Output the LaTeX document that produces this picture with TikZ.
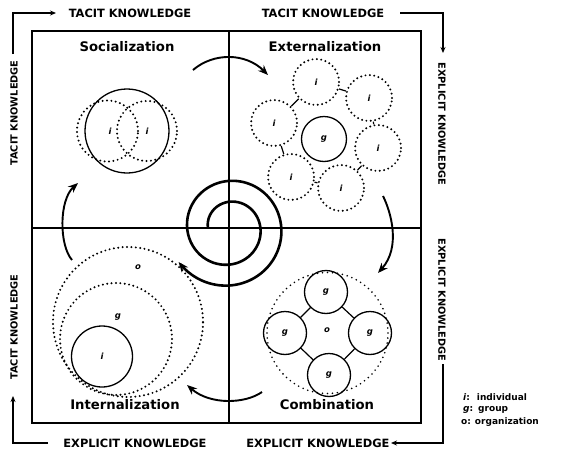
\documentclass[tikz,border=0pt]{standalone}
\usepackage{fontspec}
\setmainfont{DejaVu Sans}
\usetikzlibrary{arrows.meta}
\begin{document}
\begin{tikzpicture}[x=1pt,y=-1pt,
  frame/.style={line width=1.4pt},
  solidc/.style={circle,draw,line width=1.3pt,inner sep=0pt,font=\fontsize{8.5}{8.5}\selectfont\bfseries\itshape},
  dotc/.style={circle,draw,line width=2.2pt,dash pattern=on 0pt off 4.4pt,line cap=round,inner sep=0pt,font=\fontsize{8.5}{8.5}\selectfont\bfseries\itshape},
  title/.style={font=\fontsize{13.2}{13.2}\selectfont\bfseries,inner sep=0pt},
  klabel/.style={font=\fontsize{11.4}{11.4}\selectfont\bfseries,inner sep=0pt},
  vlabel/.style={font=\fontsize{9.8}{9.8}\selectfont\bfseries,inner sep=0pt},
  lbl/.style={font=\fontsize{8.5}{8.5}\selectfont\bfseries\itshape,inner sep=0pt},
  legend/.style={font=\fontsize{9}{9}\selectfont\bfseries,inner sep=0pt,anchor=west},
  cyc/.style={line width=1.9pt,-{Stealth[length=10pt,width=8pt]}},
  outarr/.style={line width=1.3pt,-{Stealth[length=6pt,width=5pt]}},
  link/.style={line width=1.2pt},
]
\useasboundingbox (0,0) rectangle (566,453);
\fill[white] (0,0) rectangle (566,453);

% main box
\draw[frame] (32,31) rectangle (421,423);
\draw[frame] (229,31) -- (229,423);
\draw[frame] (32,228) -- (421,228);

% outer frame labels
\node[klabel] (tk1) at (130,13) {TACIT KNOWLEDGE};
\node[klabel] (tk2) at (323,13) {TACIT KNOWLEDGE};
\node[klabel] (ek1) at (135,443) {EXPLICIT KNOWLEDGE};
\node[klabel] (ek2) at (318,443) {EXPLICIT KNOWLEDGE};
\node[vlabel,rotate=90] (tk3) at (14,113) {TACIT KNOWLEDGE};
\node[vlabel,rotate=90] (tk4) at (14,327) {TACIT KNOWLEDGE};
\node[vlabel,rotate=-90] (ek3) at (442,124) {EXPLICIT KNOWLEDGE};
\node[vlabel,rotate=-90] (ek4) at (442,300) {EXPLICIT KNOWLEDGE};

% outer frame arrows
\coordinate (a1s) at (13,54);
\coordinate (a1e) at (56,13);
\draw[outarr] (a1s) |- (a1e);
\coordinate (a2s) at (400,13);
\coordinate (a2e) at (443,53);
\draw[outarr] (a2s) -| (a2e);
\coordinate (a3s) at (443,364);
\coordinate (a3e) at (391,443);
\draw[outarr] (a3s) |- (a3e);
\coordinate (a4s) at (48,443);
\coordinate (a4e) at (13,396);
\draw[outarr] (a4s) -| (a4e);

% titles
\node[title] (tsoc) at (127,47) {Socialization};
\node[title] (text) at (325,47) {Externalization};
\node[title] (tint) at (125,405) {Internalization};
\node[title] (tcom) at (327,405) {Combination};

% Socialization
\node[solidc,minimum size=84pt] (soc) at (127,131) {};
\node[dotc,minimum size=61pt] (socA) at (107.5,131) {};
\node[dotc,minimum size=60pt] (socB) at (147,131) {};
\node[lbl] (si1) at (110,131) {i};
\node[lbl] (si2) at (147,131) {i};

% Externalization
\node[solidc,minimum size=45pt] (eg) at (324,139) {g};
\node[dotc,minimum size=46pt] (e1) at (316,82) {i};
\node[dotc,minimum size=46pt] (e2) at (369,98) {i};
\node[dotc,minimum size=46pt] (e3) at (378,148) {i};
\node[dotc,minimum size=46pt] (e4) at (341,188) {i};
\node[dotc,minimum size=46pt] (e5) at (291,177) {i};
\node[dotc,minimum size=46pt] (e6) at (274,123) {i};
\draw[link] (e1) -- (e2);
\draw[link] (e2) -- (e3);
\draw[link] (e3) -- (e4);
\draw[link] (e4) -- (e5);
\draw[link] (e5) -- (e6);
\draw[link] (e6) -- (e1);

% Combination
\node[dotc,minimum size=121pt,line width=1.8pt,dash pattern=on 0pt off 5pt] (cb) at (327.5,333) {};
\node[lbl] (co) at (327,330) {o};
\node[solidc,minimum size=43pt] (c1) at (326,292) {g};
\node[solidc,minimum size=43pt] (c2) at (370,333) {g};
\node[solidc,minimum size=43pt] (c3) at (329,375) {g};
\node[solidc,minimum size=43pt] (c4) at (285,333) {g};
\draw[link] (c1) -- (c2);
\draw[link] (c2) -- (c3);
\draw[link] (c3) -- (c4);
\draw[link] (c4) -- (c1);

% Internalization
\node[dotc,minimum size=150pt] (io) at (128,322) {};
\node[dotc,minimum size=112pt] (ig) at (116,339) {};
\node[solidc,minimum size=61pt] (ii) at (102,356.5) {i};
\node[lbl] (lo) at (138,267) {o};
\node[lbl] (lg) at (118,317) {g};

% cycle arrows
\coordinate (s1) at (193,70);
\coordinate (s2) at (268,75);
\draw[cyc] (s1) .. controls (214,52) and (246,53) .. (s2);
\coordinate (x1) at (383,196);
\coordinate (x2) at (378,273);
\draw[cyc] (x1) .. controls (391,212) and (401,247) .. (x2);
\coordinate (m1) at (262,392);
\coordinate (m2) at (187,385);
\draw[cyc] (m1) .. controls (245,404) and (210,405) .. (m2);
\coordinate (n1) at (72,260);
\coordinate (n2) at (78,183);
\draw[cyc] (n1) .. controls (59,245) and (59,200) .. (n2);

% spiral
\draw[line width=2.6pt,-{Stealth[length=10pt,width=8pt]}]
  plot[domain=180:866,samples=120,smooth]
  ({229+(21+(\x-180)*0.058)*cos(\x)},{228+(21+(\x-180)*0.058)*sin(\x)});

% legend
\node[legend] (l1) at (463,397) {\textit{i}:\hspace{7pt}individual};
\node[legend] (l2) at (463,410) {\textit{g}:\hspace{5pt}group};
\node[legend] (l3) at (461,422) {o:\hspace{4pt}organization};
\end{tikzpicture}
\end{document}
